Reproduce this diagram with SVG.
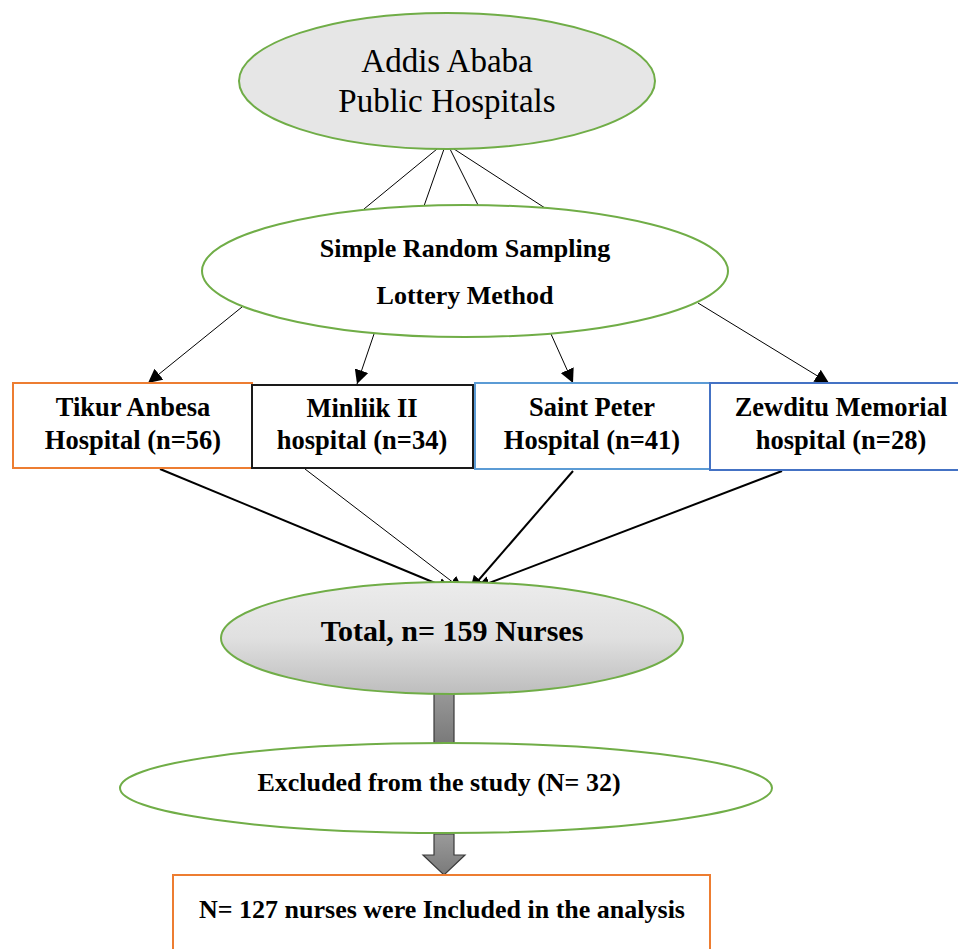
<svg xmlns="http://www.w3.org/2000/svg" width="958" height="949" viewBox="0 0 958 949">
<defs>
<style>
.t{font-family:"Liberation Serif","Times New Roman",serif;fill:#000;text-anchor:middle}
.b{font-weight:bold}
.ell{stroke:#70ad47;stroke-width:2}
.ln{stroke:#000;fill:none}
</style>
<linearGradient id="gTot" x1="0" y1="0" x2="0" y2="1">
<stop offset="0" stop-color="#ececec"/>
<stop offset="0.5" stop-color="#e0e0e0"/>
<stop offset="1" stop-color="#bdbdbd"/>
</linearGradient>
<linearGradient id="gArr" x1="0" y1="0" x2="0" y2="1">
<stop offset="0" stop-color="#9a9a9a"/>
<stop offset="1" stop-color="#7a7a7a"/>
</linearGradient>
<marker id="ah2" viewBox="0 0 10 10" refX="10" refY="5" markerWidth="14" markerHeight="14" markerUnits="userSpaceOnUse" orient="auto">
<path d="M0,0 L10,5 L0,10 z" fill="#000"/>
</marker>
</defs>
<rect width="958" height="949" fill="#fff"/>

<g id="connectors">
<line class="ln" x1="437" y1="149" x2="364" y2="209" stroke-width="1"/>
<line class="ln" x1="444" y1="149" x2="424" y2="206" stroke-width="1"/>
<line class="ln" x1="450" y1="149" x2="478" y2="205" stroke-width="1"/>
<line class="ln" x1="454" y1="149" x2="545" y2="208" stroke-width="1"/>

<line class="ln" x1="242" y1="307" x2="148" y2="383" stroke-width="1" marker-end="url(#ah2)"/>
<line class="ln" x1="374" y1="334" x2="357" y2="384" stroke-width="1" marker-end="url(#ah2)"/>
<line class="ln" x1="551" y1="334" x2="573" y2="383" stroke-width="1" marker-end="url(#ah2)"/>
<line class="ln" x1="698" y1="303" x2="829" y2="383" stroke-width="1" marker-end="url(#ah2)"/>

<line class="ln" x1="160" y1="469" x2="452" y2="590" stroke-width="2" marker-end="url(#ah2)"/>
<line class="ln" x1="305" y1="469" x2="463" y2="590" stroke-width="1" marker-end="url(#ah2)"/>
<line class="ln" x1="573" y1="471" x2="470" y2="590" stroke-width="2" marker-end="url(#ah2)"/>
<line class="ln" x1="782" y1="471" x2="476" y2="588" stroke-width="2" marker-end="url(#ah2)"/>

<path d="M434,689 H454 V743 H434 Z" fill="url(#gArr)" stroke="#3a3a3a" stroke-width="1.2"/>
<path d="M434,834 H454 V855 H465 L444,875 L423,855 H434 Z" fill="url(#gArr)" stroke="#3a3a3a" stroke-width="1.2"/>
</g>

<g id="node-top">
<ellipse class="ell" cx="447" cy="81" rx="208" ry="68" fill="#e6e6e6"/>
<text class="t" x="447" y="72" font-size="33">Addis Ababa</text>
<text class="t" x="447" y="112" font-size="33">Public Hospitals</text>
</g>

<g id="node-sampling">
<ellipse class="ell" cx="465" cy="271" rx="263" ry="66" fill="#fff"/>
<text class="t b" x="465" y="257" font-size="26">Simple Random Sampling</text>
<text class="t b" x="465" y="304" font-size="26">Lottery Method</text>
</g>

<g id="node-tikur">
<rect x="13" y="383" width="239" height="85" fill="#fff" stroke="#ed7d31" stroke-width="2"/>
<text class="t b" x="133" y="416" font-size="26.5">Tikur Anbesa</text>
<text class="t b" x="133" y="449" font-size="26.5">Hospital (n=56)</text>
</g>

<g id="node-minliik">
<rect x="252" y="385" width="221" height="83" fill="#fff" stroke="#1a1a1a" stroke-width="2"/>
<text class="t b" x="362" y="417" font-size="26.5">Minliik II</text>
<text class="t b" x="362" y="449" font-size="26.5">hospital (n=34)</text>
</g>

<g id="node-saintpeter">
<rect x="475" y="383" width="235" height="86" fill="#fff" stroke="#5b9bd5" stroke-width="2"/>
<text class="t b" x="592" y="416" font-size="26.5">Saint Peter</text>
<text class="t b" x="592" y="449" font-size="26.5">Hospital (n=41)</text>
</g>

<g id="node-zewditu">
<rect x="710" y="383" width="262" height="87" fill="#fff" stroke="#4472c4" stroke-width="2"/>
<text class="t b" x="841" y="416" font-size="26.5">Zewditu Memorial</text>
<text class="t b" x="841" y="449" font-size="26.5">hospital (n=28)</text>
</g>

<g id="node-total">
<ellipse class="ell" cx="452" cy="638" rx="231" ry="56" fill="url(#gTot)"/>
<text class="t b" x="452" y="641" font-size="30">Total, n= 159 Nurses</text>
</g>

<g id="node-excluded">
<ellipse class="ell" cx="446" cy="788" rx="326" ry="45" fill="#fff"/>
<text class="t b" x="439" y="791" font-size="26">Excluded from the study (N= 32)</text>
</g>

<g id="node-included">
<rect x="173" y="875" width="537" height="90" fill="#fff" stroke="#ed7d31" stroke-width="2"/>
<text class="t b" x="442" y="918" font-size="26">N= 127 nurses were Included in the analysis</text>
</g>
</svg>
